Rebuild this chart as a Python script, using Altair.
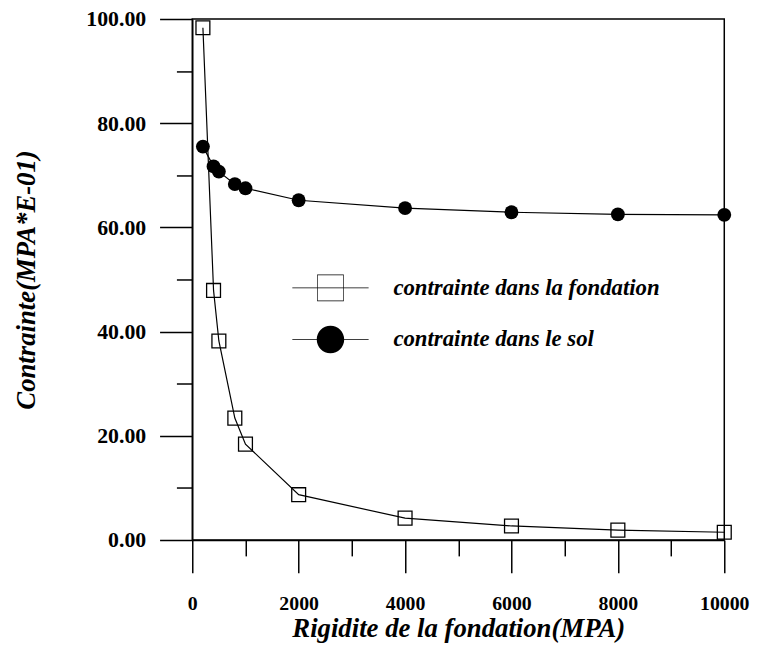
import altair as alt
import pandas as pd

# Data
rigidite = [200, 400, 500, 800, 1000, 2000, 4000, 6000, 8000, 10000]
fondation = [98.3, 47.9, 38.2, 23.4, 18.4, 8.7, 4.2, 2.7, 1.9, 1.5]
sol = [75.5, 71.7, 70.7, 68.3, 67.5, 65.2, 63.7, 62.9, 62.5, 62.4]
series_names = ["contrainte dans la fondation", "contrainte dans le sol"]
x_ticks = list(range(0, 10001, 1000))
y_ticks = list(range(0, 101, 10))

df = pd.DataFrame({
    "x": rigidite + rigidite,
    "y": fondation + sol,
    "series": [series_names[0]] * len(rigidite) + [series_names[1]] * len(rigidite),
})

SERIF = "Liberation Serif"

x_axis = alt.Axis(
    values=x_ticks,
    labelExpr="datum.value % 2000 === 0 ? format(datum.value, 'd') : ''",
    tickSize={"condition": {"test": "datum.value % 2000 === 0", "value": 33}, "value": 16},
    tickColor="black", tickWidth=1.5,
    domainColor="black", domainWidth=1.5,
    labelFont=SERIF, labelFontWeight="bold", labelFontSize=20, labelColor="black",
    labelPadding=21, labelFlush=False, labelOverlap=False,
    title="Rigidite de la fondation(MPA)",
    titleFont=SERIF, titleFontSize=27, titleFontStyle="italic", titleFontWeight="bold",
    titleColor="black", titlePadding=2,
    grid=False,
)

y_axis = alt.Axis(
    values=y_ticks,
    labelExpr="datum.value % 20 === 0 ? format(datum.value, '.2f') : ''",
    tickSize={"condition": {"test": "datum.value % 20 === 0", "value": 33}, "value": 16},
    tickColor="black", tickWidth=1.5,
    domainColor="black", domainWidth=1.5,
    labelFont=SERIF, labelFontWeight="bold", labelFontSize=22, labelColor="black",
    labelPadding=14, labelFlush=False, labelOverlap=False,
    title="Contrainte(MPA*E-01)",
    titleFont=SERIF, titleFontSize=27, titleFontStyle="italic", titleFontWeight="bold",
    titleColor="black", titlePadding=46,
    grid=False,
)

xs = alt.Scale(domain=[0, 10000], nice=False)
ys = alt.Scale(domain=[0, 100], nice=False)

base = alt.Chart(df)

lines = base.mark_line(color="black", strokeWidth=1.2).encode(
    x=alt.X("x:Q", scale=xs, axis=x_axis),
    y=alt.Y("y:Q", scale=ys, axis=y_axis),
    detail="series:N",
)

squares = base.transform_filter(
    alt.datum.series == series_names[0]
).mark_point(shape="square", filled=False, color="black", size=196, strokeWidth=1.3, opacity=1).encode(
    x=alt.X("x:Q", scale=xs), y=alt.Y("y:Q", scale=ys)
)

circles = base.transform_filter(
    alt.datum.series == series_names[1]
).mark_point(shape="circle", filled=True, color="black", size=196, opacity=1).encode(
    x=alt.X("x:Q", scale=xs), y=alt.Y("y:Q", scale=ys)
)

# legend symbols drawn with fill only: thin line + hollow square / disc
sq_path = ("M-1,-0.009H1V0.009H-1Z"
           "M-0.35,-0.35H0.35V0.35H-0.35Z"
           "M-0.333,-0.333V0.333H0.333V-0.333Z")
ci_path = ("M-1,-0.009H1V0.009H-1Z"
           "M-0.36,0A0.36,0.36 0 1,1 0.36,0A0.36,0.36 0 1,1 -0.36,0Z")

legend = alt.Legend(
    title=None, orient="none", legendX=101, legendY=233,
    padding=0, rowPadding=-28, symbolSize=5929, labelOffset=25,
    symbolOpacity=1, symbolFillColor="black", symbolStrokeWidth=0,
    labelFont=SERIF, labelFontSize=23, labelFontStyle="italic", labelFontWeight="bold",
    labelColor="black", labelLimit=400,
)

legend_layer = base.transform_filter("false").mark_point(
    filled=True, color="black", opacity=1
).encode(
    x=alt.X("x:Q", scale=xs), y=alt.Y("y:Q", scale=ys),
    shape=alt.Shape("series:N", scale=alt.Scale(domain=series_names, range=[sq_path, ci_path]), legend=legend),
)

chart = alt.layer(lines, squares, circles, legend_layer).properties(
    width=537, height=526,
    autosize=alt.AutoSizeParams(type="none"),
    padding={"left": 186, "top": 8, "right": 30, "bottom": 112},
    background="white",
).configure_view(stroke="black", strokeWidth=1.5)

chart.save("out.html", embed_options={"renderer": "svg", "actions": False})
